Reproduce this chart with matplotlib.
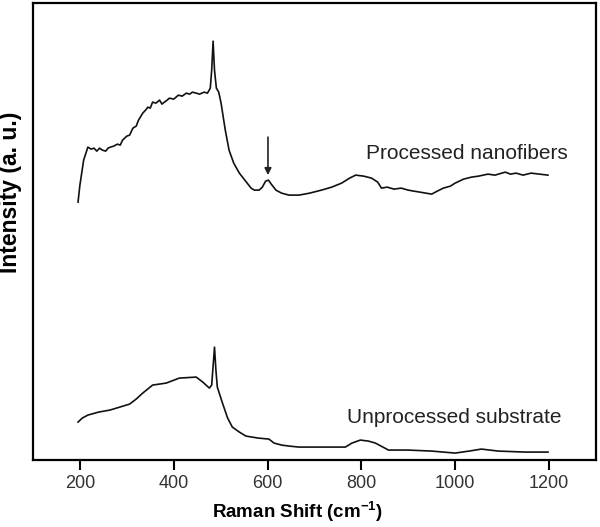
import matplotlib.pyplot as plt
import numpy as np

plt.rcParams['font.family'] = ['Liberation Sans', 'DejaVu Sans']
plt.rcParams['mathtext.default'] = 'regular'

# Raman shift (cm-1) and intensity (a.u.)
proc_x = [196, 200, 208, 217, 224, 230, 236, 242, 248, 255, 260, 265, 272, 280, 286,
          291, 300, 306, 313, 320, 325, 334, 340, 345, 350, 355, 362, 370, 375, 380,
          386, 391, 400, 410, 418, 427, 434, 440, 448, 455, 465, 472, 478, 481, 484,
          487, 491, 496, 501, 510, 518, 528, 540, 555, 565, 572, 582, 589, 596, 602,
          608, 618, 630, 646, 667, 690, 715, 737, 758, 775, 788, 805, 822, 835, 843,
          855, 870, 885, 900, 912, 925, 950, 962, 975, 990, 1000, 1018, 1035, 1050,
          1070, 1085, 1107, 1118, 1130, 1145, 1162, 1180, 1198]
proc_y = [258, 275, 300, 313, 311, 312, 309, 312, 310, 309, 312, 313, 314, 316, 315,
          320, 324, 325, 332, 334, 340, 347, 350, 353, 352, 358, 357, 360, 356, 358,
          360, 362, 361, 365, 364, 367, 366, 368, 367, 366, 368, 367, 372, 390, 419,
          390, 372, 368, 357, 330, 310, 297, 287, 278, 272, 270, 270, 273, 279, 280,
          276, 270, 267, 265, 265, 267, 270, 273, 277, 282, 285, 284, 282, 278, 272,
          273, 271, 272, 270, 269, 268, 266, 269, 272, 274, 277, 281, 283, 284,
          286, 285, 288, 286, 287, 285, 287, 286, 285]

unproc_x = [196, 205, 217, 240, 264, 285, 306, 320, 334, 355, 384, 412, 448, 462, 476,
            481, 485, 487, 490, 493, 504, 515, 525, 540, 554, 580, 603, 614, 630, 646,
            667, 720, 766, 780, 798, 815, 830, 858, 900, 950, 1000, 1030, 1056, 1092,
            1149, 1198]
unproc_y = [38, 42, 45, 48, 50, 53, 56, 61, 67, 75, 77, 82, 83, 78, 72,
            75, 100, 113, 90, 73, 57, 42, 33, 28, 24, 22, 21, 17, 15, 14,
            13, 13, 13, 17, 20, 19, 17, 10, 10, 9, 7, 9, 11, 9,
            8, 8]

xticks = [200, 400, 600, 800, 1000, 1200]

fig = plt.figure(figsize=(6, 5.27), dpi=100)
ax = fig.add_axes([0.055, 0.127, 0.938, 0.867])

ax.plot(proc_x, proc_y, color='#111111', lw=1.2)
ax.plot(unproc_x, unproc_y, color='#111111', lw=1.2)

ax.annotate('', xy=(601, 285), xytext=(601, 323),
            arrowprops=dict(arrowstyle='-|>', color='#222222', lw=1.2,
                            mutation_scale=10, shrinkA=0, shrinkB=0))

ax.text(809, 307, 'Processed nanofibers', fontsize=15, va='center', ha='left',
        color='#222222')
ax.text(769, 43, 'Unprocessed substrate', fontsize=15, va='center', ha='left',
        color='#222222')

ax.set_xlim(100, 1300)
ax.set_ylim(0, 457)
ax.set_xticks(xticks)
ax.set_yticks([])
ax.tick_params(axis='x', direction='out', length=7, width=1.5, pad=4,
               labelsize=13, labelcolor='#333333')
for s in ax.spines.values():
    s.set_linewidth(1.6)

ax.set_xlabel('Raman Shift (cm$^{-1}$)', fontsize=13.5, fontweight='bold')
ax.xaxis.set_label_coords(0.469, -0.087)
ax.set_ylabel('Intensity (a. u.)', fontsize=16.5, fontweight='bold')
ax.yaxis.set_label_coords(-0.02, 0.585)

fig.savefig('out.png', dpi=100)
